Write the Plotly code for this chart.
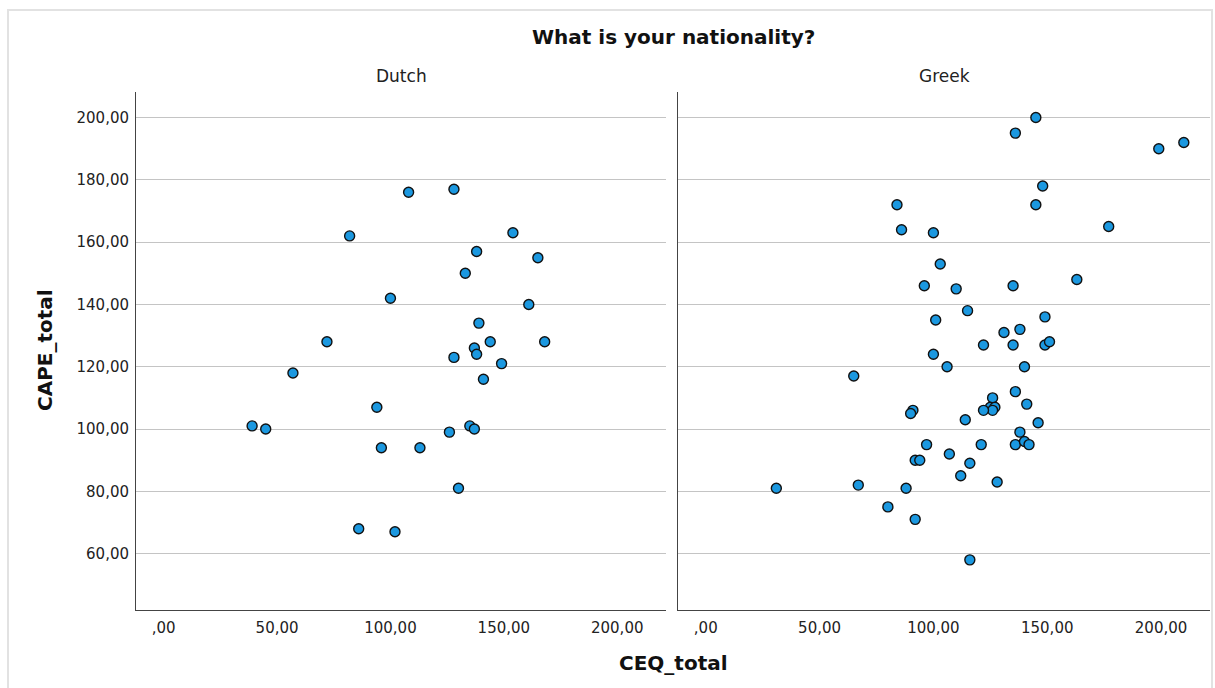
import plotly.graph_objects as go

# CEQ_total / CAPE_total per respondent, split by nationality
dutch_ceq = [108, 128, 82, 154, 138, 165, 133, 100, 161, 139, 72, 144, 168, 137, 138,
             128, 149, 57, 141, 94, 39, 45, 126, 135, 137, 96, 113, 130, 86, 102]
dutch_cape = [176, 177, 162, 163, 157, 155, 150, 142, 140, 134, 128, 128, 128, 126, 124,
              123, 121, 118, 116, 107, 101, 100, 99, 101, 100, 94, 94, 81, 68, 67]

greek_ceq = [145, 136, 199, 210, 84, 148, 145, 177, 86, 100, 103, 96, 110, 135, 163,
             115, 101, 149, 131, 138, 122, 135, 149, 151, 100, 106, 65, 140, 136, 126,
             141, 125, 127, 126, 122, 91, 90, 114, 146, 138, 136, 140, 142, 121, 97,
             107, 92, 94, 116, 112, 128, 31, 67, 88, 80, 92, 116]
greek_cape = [200, 195, 190, 192, 172, 178, 172, 165, 164, 163, 153, 146, 145, 146, 148,
              138, 135, 136, 131, 132, 127, 127, 127, 128, 124, 120, 117, 120, 112, 110,
              108, 107, 107, 106, 106, 106, 105, 103, 102, 99, 95, 96, 95, 95, 95,
              92, 90, 90, 89, 85, 83, 81, 82, 81, 75, 71, 58]

panels = ["Dutch", "Greek"]
x_ticks = [0, 50, 100, 150, 200]
x_tick_text = [",00", "50,00", "100,00", "150,00", "200,00"]
y_ticks = [60, 80, 100, 120, 140, 160, 180, 200]
y_tick_text = ["60,00", "80,00", "100,00", "120,00", "140,00", "160,00", "180,00", "200,00"]

W, H = 1215, 688
ML, MR, MT, MB = 136, 5, 92, 78
PW = W - ML - MR
PH = H - MT - MB

dom1 = [0, (666 - ML) / PW]
dom2 = [(678 - ML) / PW, 1]

marker = dict(size=10, color="#1b98e0", line=dict(color="#111111", width=1.4))

fig = go.Figure()
fig.add_trace(go.Scatter(x=dutch_ceq, y=dutch_cape, mode="markers", marker=marker,
                         xaxis="x", yaxis="y", showlegend=False, name=panels[0]))
fig.add_trace(go.Scatter(x=greek_ceq, y=greek_cape, mode="markers", marker=marker,
                         xaxis="x2", yaxis="y2", showlegend=False, name=panels[1]))

tick_font = dict(family="DejaVu Sans", size=15, color="#222222")
x_common = dict(range=[-12.2, 221.5], tickvals=x_ticks, ticktext=x_tick_text,
                showgrid=False, zeroline=False, showline=True, linecolor="#444444",
                linewidth=1, ticks="", tickfont=tick_font, fixedrange=True,
                ticklabelstandoff=4)
y_common = dict(range=[41.9, 208.2], tickvals=y_ticks, showgrid=True,
                gridcolor="#c4c4c4", gridwidth=1.3, zeroline=False, showline=True,
                linecolor="#444444", linewidth=1, ticks="", tickfont=tick_font,
                fixedrange=True, ticklabelstandoff=3)

fig.update_layout(
    width=W, height=H,
    margin=dict(l=ML, r=MR, t=MT, b=MB),
    plot_bgcolor="white", paper_bgcolor="white",
    xaxis=dict(domain=dom1, anchor="y", **x_common),
    xaxis2=dict(domain=dom2, anchor="y2", **x_common),
    yaxis=dict(anchor="x", ticktext=y_tick_text, showticklabels=True, **y_common),
    yaxis2=dict(anchor="x2", showticklabels=False, **y_common),
)

def px_x(p):
    return (p - ML) / PW

def px_y(p):
    return (H - MB - p) / PH

annotations = [
    dict(text="<b>What is your nationality?</b>", x=px_x(673), y=px_y(37),
         font=dict(family="DejaVu Sans", size=20, color="#111111")),
    dict(text=panels[0], x=px_x(401), y=px_y(76),
         font=dict(family="DejaVu Sans", size=17, color="#222222")),
    dict(text=panels[1], x=px_x(944), y=px_y(76),
         font=dict(family="DejaVu Sans", size=17, color="#222222")),
    dict(text="<b>CEQ_total</b>", x=px_x(673), y=px_y(663),
         font=dict(family="DejaVu Sans", size=20, color="#111111")),
    dict(text="<b>CAPE_total</b>", x=px_x(45), y=px_y(350), textangle=-90,
         font=dict(family="DejaVu Sans", size=20, color="#111111")),
]
for a in annotations:
    a.update(xref="paper", yref="paper", showarrow=False, xanchor="center", yanchor="middle")
fig.update_layout(annotations=annotations)

# light frame around the whole chart
fig.add_shape(type="rect", xref="paper", yref="paper",
              x0=px_x(8), x1=px_x(1212), y0=px_y(700), y1=px_y(10),
              line=dict(color="#e2e2e2", width=2), fillcolor="rgba(0,0,0,0)", layer="below")

fig.write_html("out.html")
